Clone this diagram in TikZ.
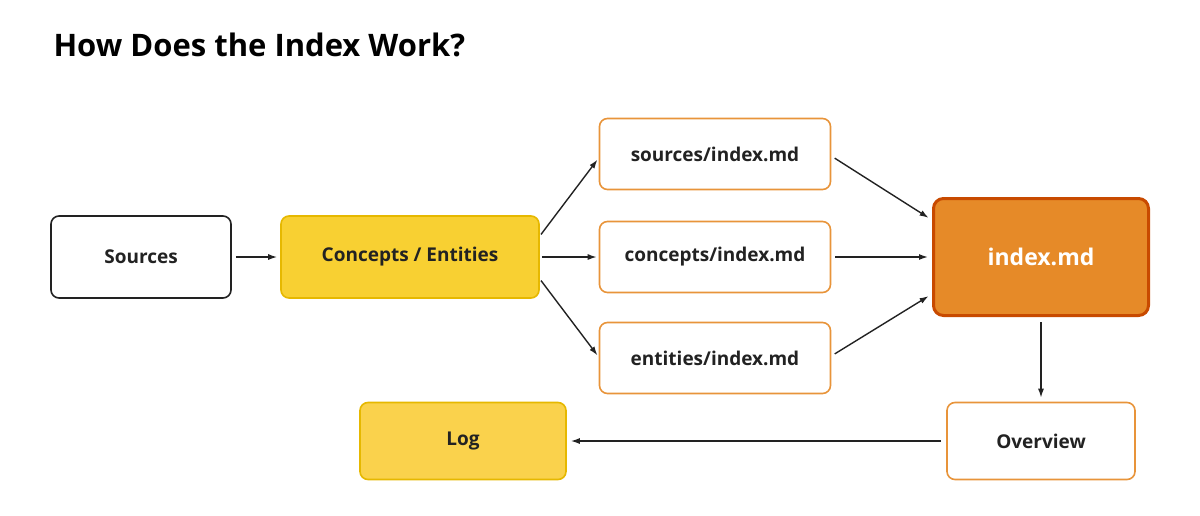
\documentclass[tikz,border=0pt]{standalone}
\usepackage{fontspec}
\setmainfont{Open Sans}
\usetikzlibrary{positioning,arrows.meta}
\definecolor{cYellow}{HTML}{F8D032}
\definecolor{cYellowEdge}{HTML}{E6B800}
\definecolor{cLog}{HTML}{FAD24C}
\definecolor{cOrange}{HTML}{E68A28}
\definecolor{cOrangeEdge}{HTML}{C84A00}
\definecolor{cLine}{HTML}{E8943A}
\definecolor{cText}{HTML}{222222}

\begin{document}
\begin{tikzpicture}[x=1pt,y=-1pt,
  box/.style={draw, rounded corners=8pt, line width=1.6pt, align=center,
    text=cText, font=\fontsize{19}{23}\selectfont\bfseries},
  plain/.style={box, draw=cText, fill=white},
  yellow/.style={box, draw=cYellowEdge, fill=cYellow},
  file/.style={box, draw=cLine, fill=white, minimum width=231pt, minimum height=71pt},
  arr/.style={-{Latex[length=9pt,width=6pt]}, line width=1.4pt, cText}]
\useasboundingbox (0,0) rectangle (1200,515);
\node[anchor=west, text=black, font=\fontsize{31}{36}\selectfont\bfseries] (title) at (50,45) {How Does the Index Work?};
\node[plain, minimum width=180pt, minimum height=82pt] (src) at (141,257) {Sources};
\node[yellow, minimum width=258pt, minimum height=82pt] (ce) at (410,257) {Concepts / Entities};
\node[file] (si) at (715,154) {sources/index.md};
\node[file] (ci) at (715,257) {concepts/index.md};
\node[file] (ei) at (715,358) {entities/index.md};
\node[box, draw=cOrangeEdge, fill=cOrange, line width=3pt, rounded corners=10pt, text=white,
  minimum width=215pt, minimum height=117pt, font=\fontsize{23}{27}\selectfont\bfseries] (idx) at (1041,257) {index.md};
\node[box, draw=cLine, fill=white, minimum width=188pt, minimum height=77pt] (ov) at (1041,441) {Overview};
\node[box, draw=cYellowEdge, fill=cLog, minimum width=206pt, minimum height=77pt] (log) at (463,441) {Log};
% connectors
\draw[arr, shorten <=4pt, shorten >=3pt] (src) -- (ce);
\draw[arr, shorten <=2pt, shorten >=2pt] ([yshift=21pt]ce.east) -- ([yshift=-4pt]si.west);
\draw[arr, shorten <=2pt, shorten >=2pt] (ce) -- (ci);
\draw[arr, shorten <=2pt, shorten >=2pt] ([yshift=-22pt]ce.east) -- ([yshift=1pt]ei.west);
\draw[arr, shorten <=4pt, shorten >=4pt] ([yshift=-2pt]si.east) -- ([yshift=37pt]idx.west);
\draw[arr, shorten <=4pt, shorten >=4pt] (ci) -- (idx);
\draw[arr, shorten <=4pt, shorten >=4pt] ([yshift=2pt]ei.east) -- ([yshift=-37pt]idx.west);
\draw[arr, shorten <=5pt, shorten >=4pt] (idx) -- (ov);
\draw[arr, shorten <=5pt, shorten >=4pt] (ov) -- (log);
\end{tikzpicture}
\end{document}
